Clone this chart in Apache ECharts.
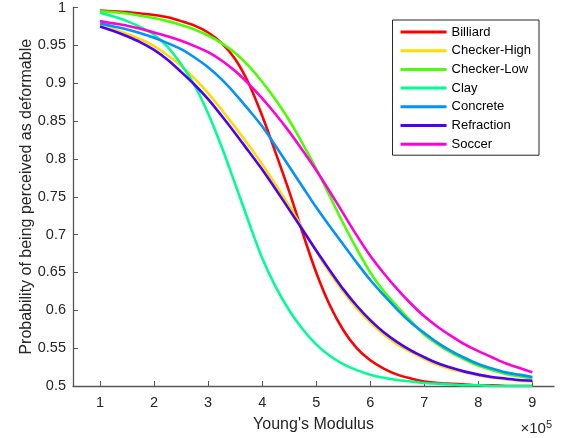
<!DOCTYPE html>
<html>
<head>
<meta charset="utf-8">
<script src="https://cdn.jsdelivr.net/npm/echarts@6/dist/echarts.min.js"></script>
<style>
  html, body { margin: 0; padding: 0; background: #fff; }
  #chart { width: 565px; height: 438px; }
</style>
</head>
<body>
<div id="chart"></div>
<script>
// Young's modulus (x 10^5) sample points
const youngs = [1, 1.25, 1.5, 1.75, 2, 2.25, 2.5, 2.75, 3, 3.25, 3.5, 3.75, 4, 4.25, 4.5, 4.75, 5,
                5.25, 5.5, 5.75, 6, 6.25, 6.5, 6.75, 7, 7.25, 7.5, 7.75, 8, 8.25, 8.5, 8.75, 9];

const billiard    = [0.996, 0.995, 0.994, 0.992, 0.990, 0.987, 0.982, 0.976, 0.967, 0.953, 0.932, 0.900, 0.857, 0.808, 0.757, 0.702, 0.650,
                     0.607, 0.574, 0.550, 0.534, 0.523, 0.515, 0.510, 0.506, 0.504, 0.503, 0.502, 0.501, 0.501, 0.500, 0.500, 0.500];
const checkerHigh = [0.977, 0.971, 0.965, 0.958, 0.949, 0.937, 0.923, 0.906, 0.887, 0.865, 0.842, 0.818, 0.793, 0.766, 0.738, 0.708, 0.678,
                     0.650, 0.625, 0.603, 0.584, 0.568, 0.555, 0.545, 0.536, 0.528, 0.522, 0.518, 0.514, 0.511, 0.509, 0.507, 0.506];
const checkerLow  = [0.995, 0.994, 0.992, 0.989, 0.986, 0.982, 0.977, 0.971, 0.963, 0.953, 0.940, 0.923, 0.902, 0.878, 0.851, 0.820, 0.787,
                     0.751, 0.715, 0.681, 0.650, 0.625, 0.605, 0.586, 0.568, 0.555, 0.544, 0.535, 0.527, 0.521, 0.516, 0.513, 0.510];
const clay        = [0.993, 0.988, 0.982, 0.974, 0.964, 0.948, 0.925, 0.897, 0.860, 0.816, 0.767, 0.717, 0.669, 0.631, 0.600, 0.575, 0.555,
                     0.540, 0.529, 0.521, 0.515, 0.511, 0.508, 0.506, 0.504, 0.503, 0.502, 0.501, 0.501, 0.500, 0.500, 0.500, 0.500];
const concrete    = [0.979, 0.975, 0.971, 0.966, 0.960, 0.953, 0.945, 0.934, 0.921, 0.905, 0.886, 0.865, 0.843, 0.817, 0.790, 0.763, 0.736,
                     0.711, 0.687, 0.663, 0.640, 0.620, 0.601, 0.584, 0.570, 0.557, 0.546, 0.537, 0.529, 0.523, 0.518, 0.515, 0.512];
const refraction  = [0.975, 0.969, 0.962, 0.954, 0.944, 0.931, 0.915, 0.898, 0.879, 0.857, 0.834, 0.810, 0.786, 0.760, 0.733, 0.706, 0.679,
                     0.653, 0.628, 0.606, 0.587, 0.571, 0.558, 0.547, 0.538, 0.530, 0.524, 0.519, 0.515, 0.512, 0.510, 0.508, 0.507];
const soccer      = [0.982, 0.979, 0.976, 0.972, 0.967, 0.962, 0.956, 0.949, 0.941, 0.930, 0.916, 0.899, 0.880, 0.859, 0.836, 0.811, 0.785,
                     0.757, 0.728, 0.699, 0.672, 0.649, 0.628, 0.609, 0.592, 0.578, 0.566, 0.555, 0.546, 0.538, 0.530, 0.524, 0.518];

const names  = ['Billiard', 'Checker-High', 'Checker-Low', 'Clay', 'Concrete', 'Refraction', 'Soccer'];
const values = [billiard, checkerHigh, checkerLow, clay, concrete, refraction, soccer];
// matlab hsv(7)
const colors = ['#ff0000', '#ffdb00', '#49ff00', '#00ff92', '#0092ff', '#4900ff', '#ff00db'];

const xTicks = [1, 2, 3, 4, 5, 6, 7, 8, 9];

const axisColor = '#262626';
const font = 'Liberation Sans, Arial, Helvetica, sans-serif';

let series = names.map(function (name, i) {
  return {
    name: name,
    type: 'line',
    smooth: 0.3,
    symbol: 'none',
    lineStyle: { width: 2.6, color: colors[i] },
    itemStyle: { color: colors[i] },
    data: youngs.map(function (x, j) { return [x, values[i][j]]; })
  };
});

let chart = echarts.init(document.getElementById('chart'));
chart.setOption({
  animation: false,
  backgroundColor: '#fff',
  grid: { left: 73, right: 11, top: 6, bottom: 52 },
  legend: {
    orient: 'vertical',
    right: 26,
    top: 20,
    padding: [5, 8, 4, 8],
    itemGap: 4.7,
    itemWidth: 46,
    itemHeight: 3,
    icon: 'rect',
    borderColor: axisColor,
    borderWidth: 1,
    backgroundColor: '#fff',
    textStyle: { fontFamily: font, fontSize: 13, color: '#000', lineHeight: 14 },
    data: names
  },
  xAxis: {
    type: 'value',
    min: 0.5,
    max: 9.4,
    name: "Young's Modulus",
    nameLocation: 'middle',
    nameGap: 31,
    nameMoveOverlap: false,
    nameTextStyle: { fontFamily: font, fontSize: 16, color: axisColor },
    splitLine: { show: false },
    axisLine: { lineStyle: { color: '#555', width: 1.3 } },
    axisTick: { inside: true, length: 5, customValues: xTicks, lineStyle: { color: '#555' } },
    axisLabel: { customValues: xTicks, fontFamily: font, fontSize: 14.5, color: axisColor, margin: 9 }
  },
  yAxis: {
    type: 'value',
    min: 0.5,
    max: 1,
    interval: 0.05,
    name: 'Probability of being perceived as deformable',
    nameLocation: 'middle',
    nameGap: 38,
    nameMoveOverlap: false,
    nameTextStyle: { fontFamily: font, fontSize: 16, color: axisColor },
    splitLine: { show: false },
    axisLine: { show: true, lineStyle: { color: '#555', width: 1.3 } },
    axisTick: { show: true, inside: true, length: 5, lineStyle: { color: '#555' } },
    axisLabel: { fontFamily: font, fontSize: 14.5, color: axisColor, margin: 7 }
  },
  graphic: [{
    type: 'text',
    right: 13,
    top: 419,
    style: {
      text: '×10{s|5}',
      font: '15px ' + font,
      fill: axisColor,
      rich: { s: { fontSize: 11, verticalAlign: 'top', padding: [0, 0, 8, 0] } }
    }
  }],
  series: series
});
</script>
</body>
</html>
